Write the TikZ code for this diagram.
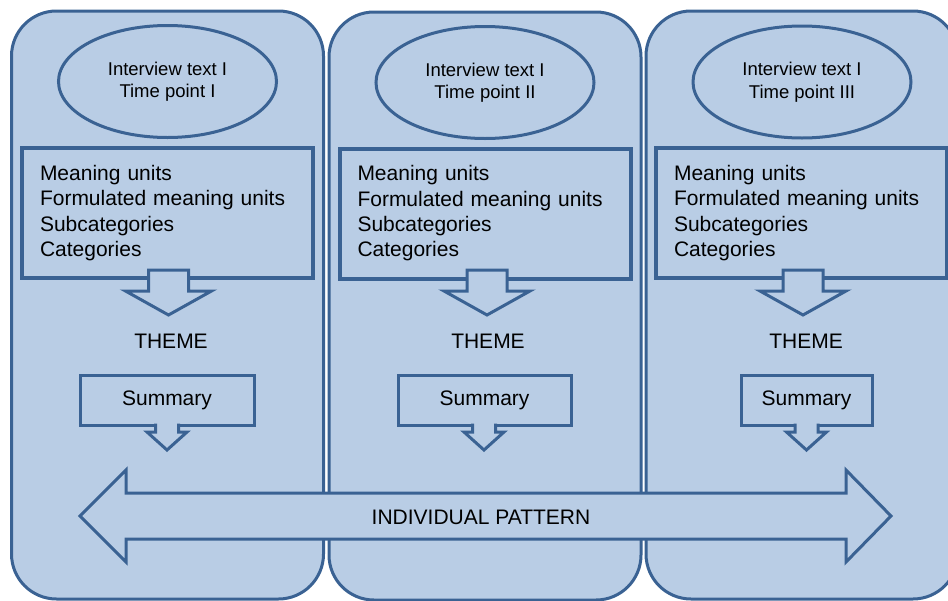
\documentclass[tikz,border=0pt]{standalone}
\usepackage{fontspec}
\setmainfont{Liberation Sans}
\usetikzlibrary{shapes.geometric}
\definecolor{panelblue}{RGB}{185,205,229}
\definecolor{edgeblue}{RGB}{58,98,147}

\begin{document}
\begin{tikzpicture}[x=1pt, y=-1pt,
    column/.style={draw=edgeblue, fill=panelblue, line width=3pt, rounded corners=45pt,
        minimum width=312pt, minimum height=588pt, inner sep=0pt},
    interview/.style={draw=edgeblue, fill=panelblue, line width=3pt, ellipse,
        minimum width=218pt, minimum height=112pt, inner sep=0pt, align=center,
        font=\fontsize{18.5}{22.5}\selectfont},
    units/.style={draw=edgeblue, line width=4pt, minimum width=291pt, minimum height=130pt,
        text width=255pt, align=left, inner sep=0pt, font=\fontsize{21}{25.3}\selectfont},
    summary/.style={draw=edgeblue, fill=panelblue, line width=3pt, minimum height=50pt,
        inner sep=0pt, font=\fontsize{21}{25}\selectfont},
    blockarrow/.style={draw=edgeblue, fill=panelblue, line width=3pt},
    label/.style={font=\fontsize{21}{25}\selectfont}]
    \useasboundingbox (0,0) rectangle (948,600);
    \clip (0,0) rectangle (948,600);
    % time point columns
    \node[column] (colI) at (167.5,305) {};
    \node[column] (colII) at (485,306) {};
    \node[column] (colIII) at (802,305) {};
    \node[interview] (textI) at (167.5,81.5) {Interview text I\\Time point I};
    \node[interview] (textII) at (485,82.5) {Interview text I\\Time point II};
    \node[interview] (textIII) at (802,82) {Interview text I\\Time point III};
    \node[units] (unitsI) at (167.5,213) {Meaning units\\Formulated meaning units\\Subcategories\\Categories};
    \node[units] (unitsII) at (485,213.5) {Meaning units\\Formulated meaning units\\Subcategories\\Categories};
    \node[units] (unitsIII) at (801.5,213) {Meaning units\\Formulated meaning units\\Subcategories\\Categories};
    % arrows down to the themes
    \draw[blockarrow] (148.5,270) -- (148.5,291) -- (125.5,291) -- (168.5,315) -- (211.5,291) -- (188.5,291) -- (188.5,270) -- cycle;
    \draw[blockarrow] (467,270) -- (467,291) -- (444,291) -- (487,315) -- (530,291) -- (507,291) -- (507,270) -- cycle;
    \draw[blockarrow] (783,270) -- (783,291) -- (760,291) -- (803,315) -- (846,291) -- (823,291) -- (823,270) -- cycle;
    \node[label] (themeI) at (171,341) {THEME};
    \node[label] (themeII) at (488,341) {THEME};
    \node[label] (themeIII) at (806,341) {THEME};
    \node[summary, minimum width=174pt] (sumI) at (167,400) {Summary};
    \node[summary, minimum width=173pt] (sumII) at (484.5,400) {Summary};
    \node[summary, minimum width=131pt] (sumIII) at (806.5,400) {Summary};
    \draw[blockarrow] (155.5,423.5) -- (155.5,432) -- (147,432) -- (167,450) -- (187,432) -- (178.5,432) -- (178.5,423.5);
    \draw[blockarrow] (472.5,423.5) -- (472.5,432) -- (464,432) -- (484,450) -- (504,432) -- (495.5,432) -- (495.5,423.5);
    \draw[blockarrow] (795,423.5) -- (795,432) -- (786.5,432) -- (806.5,450) -- (826.5,432) -- (818,432) -- (818,423.5);
    % pattern across all time points
    \draw[blockarrow] (80,516) -- (126,470) -- (126,493) -- (846,493) -- (846,470) -- (891,516)
        -- (846,562) -- (846,539) -- (126,539) -- (126,562) -- cycle;
    \node[label] (pattern) at (481,517) {INDIVIDUAL PATTERN};
\end{tikzpicture}
\end{document}
